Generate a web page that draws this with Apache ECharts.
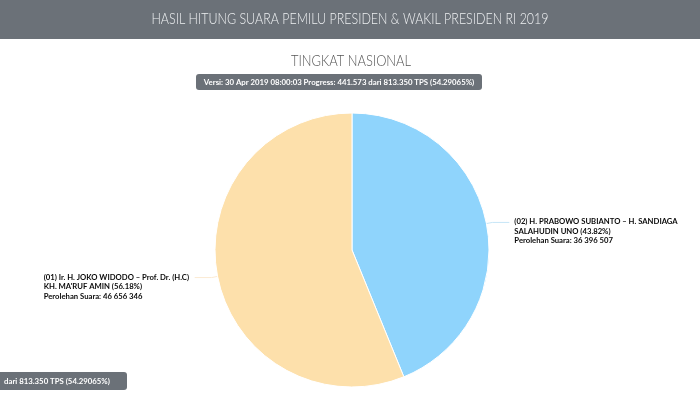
<!DOCTYPE html>
<html><head><meta charset="utf-8">
<script src="https://cdn.jsdelivr.net/npm/echarts@6/dist/echarts.min.js"></script>
<style>html,body{margin:0;padding:0;background:#fff}#c{width:700px;height:393px}</style>
</head><body><div id="c"></div>
<script>
const headerTitle = 'HASIL HITUNG SUARA PEMILU PRESIDEN & WAKIL PRESIDEN RI 2019';
const subTitle = 'TINGKAT NASIONAL';
const versionText = 'Versi: 30 Apr 2019 08:00:03 Progress: 441.573 dari 813.350 TPS (54.29065%)';
const cornerText = 'dari 813.350 TPS (54.29065%)';
const candidatesLine1 = ['(02) H. PRABOWO SUBIANTO \u2013 H. SANDIAGA', '(01) Ir. H. JOKO WIDODO \u2013 Prof. Dr. (H.C)'];
const candidatesLine2 = ['SALAHUDIN UNO', 'KH. MA\'RUF AMIN'];
const percents = ['43.82%', '56.18%'];
const votes = [36396507, 46656346];
const voteLabels = ['36 396 507', '46 656 346'];
const colors = ['#8fd4fc', '#fde0ab'];
const lineColors = ['#c6e6f7', '#fbead3'];

const labelFont = 'bold 7.7px Lato';
const ctx = document.createElement('canvas').getContext('2d');
ctx.font = labelFont;

const chart = echarts.init(document.getElementById('c'));
const data = votes.map((v, i) => {
  const lines = [candidatesLine1[i], candidatesLine2[i] + ' (' + percents[i] + ')', 'Perolehan Suara: ' + voteLabels[i]];
  const w = Math.ceil(Math.max.apply(null, lines.map(l => ctx.measureText(l).width)));
  return {
    value: v,
    name: candidatesLine1[i],
    itemStyle: { color: colors[i] },
    labelLine: { lineStyle: { color: lineColors[i], width: 1 } },
    label: {
      formatter: '{gap|}\n' + lines.map(l => '{a|' + l + '}').join('\n'),
      rich: {
        gap: { height: 18, lineHeight: 18, width: w },
        a: { fontFamily: 'Lato', fontWeight: 'bold', fontSize: 7.7, lineHeight: 9.5, width: w, align: 'left', color: '#0a0a0a' }
      }
    }
  };
});
chart.setOption({
  animation: false,
  graphic: [
    { type: 'rect', left: 0, top: 0, shape: { width: 700, height: 39 }, style: { fill: '#6b7178' } },
    { type: 'text', x: 350, y: 19, scaleX: 0.83, style: { text: headerTitle, fill: '#eef0f2', font: '300 15px Lato', align: 'center', verticalAlign: 'middle' } },
    { type: 'text', x: 351, y: 61, scaleX: 0.86, style: { text: subTitle, fill: '#555555', font: '300 15px Lato', align: 'center', verticalAlign: 'middle' } },
    { type: 'group', left: 196, top: 74, children: [
      { type: 'rect', shape: { x: 0, y: 0, width: 286, height: 16, r: 3 }, style: { fill: '#6b7178' } },
      { type: 'text', x: 143, y: 8, style: { text: versionText, fill: '#ffffff', font: 'bold 7.8px Lato', align: 'center', verticalAlign: 'middle' } }
    ]},
    { type: 'group', left: 0, top: 372, children: [
      { type: 'rect', shape: { x: 0, y: 0, width: 127, height: 18, r: [0, 3, 3, 0] }, style: { fill: '#6b7178' } },
      { type: 'text', x: 4, y: 9, style: { text: cornerText, fill: '#ffffff', font: 'bold 7.8px Lato', verticalAlign: 'middle' } }
    ]}
  ],
  series: [{
    type: 'pie',
    center: [352, 250],
    radius: [0, 137],
    startAngle: 90,
    clockwise: true,
    itemStyle: { borderColor: '#ffffff', borderWidth: 1 },
    label: { show: true, position: 'outside', color: '#0a0a0a' },
    labelLine: { show: true, length: 6, length2: 17, smooth: false },
    emphasis: { disabled: true },
    data: data
  }]
});
</script></body></html>
